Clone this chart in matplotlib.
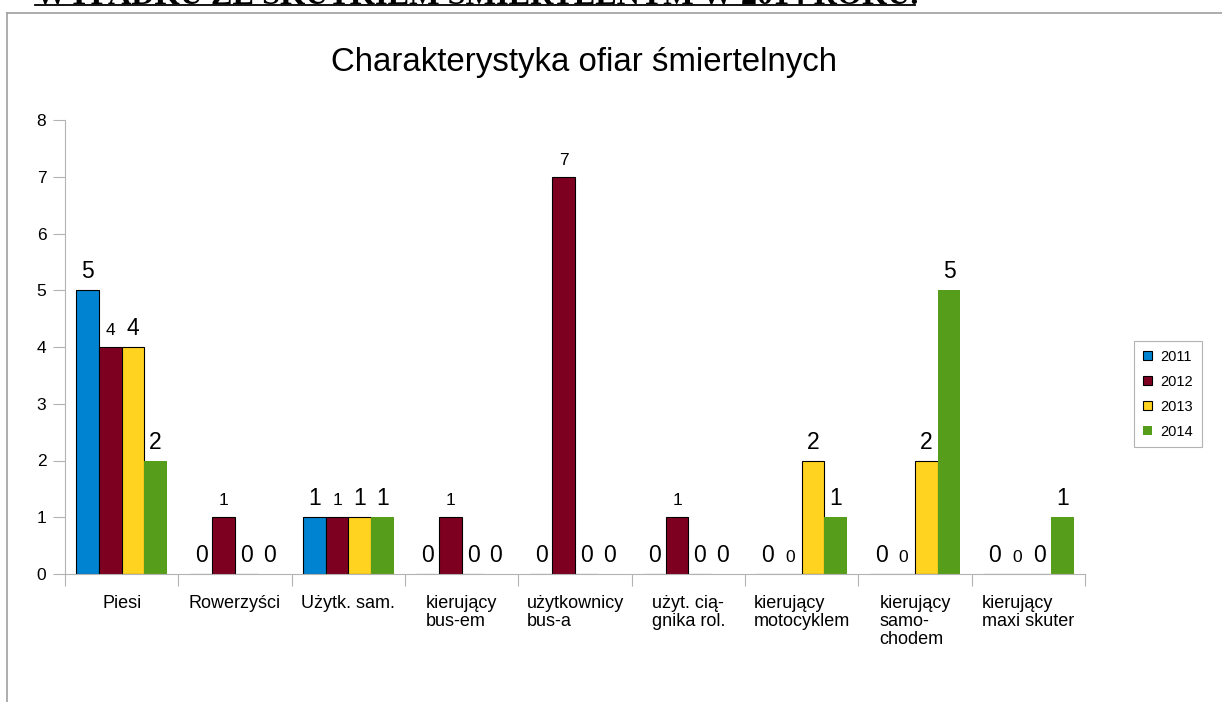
import numpy as np
import matplotlib
matplotlib.use("Agg")
import matplotlib.pyplot as plt
from matplotlib.lines import Line2D
from matplotlib.patches import Patch

plt.rcParams['font.family'] = ['Liberation Sans', 'DejaVu Sans']

# data
categories = ['Piesi', 'Rowerzyści', 'Użytk. sam.', 'kierujący\nbus-em',
              'użytkownicy\nbus-a', 'użyt. cią-\ngnika rol.', 'kierujący\nmotocyklem',
              'kierujący\nsamo-\nchodem', 'kierujący\nmaxi skuter']
years = ['2011', '2012', '2013', '2014']
v2011 = [5, 0, 1, 0, 0, 0, 0, 0, 0]
v2012 = [4, 1, 1, 1, 7, 1, 0, 0, 0]
v2013 = [4, 0, 1, 0, 0, 0, 2, 2, 0]
v2014 = [2, 0, 1, 0, 0, 0, 1, 5, 1]
series = [v2011, v2012, v2013, v2014]

colours = ['#0084d1', '#7e0021', '#ffd320', '#579d1c']
edges = ['black', 'black', 'black', 'none']
label_sizes = [16.5, 12.5, 16.5, 16.5]

W, H = 1222, 702
fig = plt.figure(figsize=(W / 100, H / 100), dpi=100)
ax = fig.add_axes([65 / W, 1 - 574 / H, (1085 - 65) / W, (574 - 120) / H])

x = np.arange(len(categories))
width = 0.2
offsets = [-0.3, -0.1, 0.1, 0.3]
handles = []
for i in range(4):
    bars = ax.bar(x + offsets[i], series[i], width, color=colours[i],
                  edgecolor=edges[i], linewidth=0.8, label=years[i])
    for b, v in zip(bars, series[i]):
        ax.annotate(str(v), (b.get_x() + b.get_width() / 2, v),
                    xytext=(0, 8.5), textcoords='offset points',
                    ha='center', va='baseline', fontsize=label_sizes[i])
    handles.append(Patch(facecolor=colours[i], edgecolor=edges[i],
                         linewidth=0.8, label=years[i]))

ax.set_xlim(-0.5, len(categories) - 0.5)
ax.set_ylim(0, 8)
ax.set_yticks(range(9))
ax.set_xticks(x)
ax.set_xticklabels(categories, multialignment='left', linespacing=1.1)
ax.set_xticks(np.arange(-0.5, len(categories)), minor=True)
grey = '#b3b3b3'
ax.tick_params(axis='x', which='major', length=0, pad=15, labelsize=13)
ax.tick_params(axis='x', which='minor', length=8.5, color=grey, width=0.8)
ax.tick_params(axis='y', length=8.5, color=grey, width=0.8, pad=5, labelsize=12.5)
for s in ['top', 'right']:
    ax.spines[s].set_visible(False)
for s in ['left', 'bottom']:
    ax.spines[s].set_color(grey)
    ax.spines[s].set_linewidth(0.8)

leg = fig.legend(handles=handles, loc='upper left',
                 bbox_to_anchor=(1134 / W, 1 - 341 / H), borderaxespad=0,
                 fontsize=10.5, handlelength=0.65, handleheight=0.65,
                 handletextpad=0.55, labelspacing=0.75, fancybox=False,
                 borderpad=0.6)
leg.get_frame().set_edgecolor('#a0a0a0')
leg.get_frame().set_linewidth(0.8)

fig.text(584 / W, 1 - 62 / H, 'Charakterystyka ofiar śmiertelnych',
         ha='center', va='center', fontsize=23.8)

# page frame from the surrounding document
frame = '#a0a0a0'
fig.add_artist(Line2D([7.5 / W, 1.0], [1 - 13 / H, 1 - 13 / H],
                      transform=fig.transFigure, color=frame, lw=1.2))
fig.add_artist(Line2D([7.5 / W, 7.5 / W], [0, 1 - 13 / H],
                      transform=fig.transFigure, color=frame, lw=1.2))

# clipped heading of the document above the chart
head = fig.text(35 / W, 1 - 4 / H, 'WYPADKU ZE SKUTKIEM ŚMIERTELNYM W 2014 ROKU.',
                ha='left', va='baseline', fontsize=20, fontweight='bold',
                family=['Liberation Serif', 'DejaVu Serif'])
fig.canvas.draw()
ext = head.get_window_extent()
head.set_fontsize(20 * 880 / ext.width)
fig.add_artist(Line2D([35 / W, 915 / W], [1 - 4.5 / H, 1 - 4.5 / H],
                      transform=fig.transFigure, color='black', lw=1.3))

fig.savefig('out.png', dpi=100)
